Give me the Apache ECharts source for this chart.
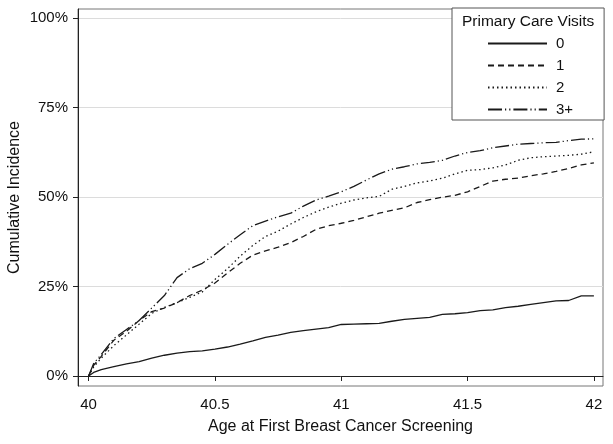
<!DOCTYPE html>
<html>
<head>
<meta charset="utf-8">
<script src="https://cdn.jsdelivr.net/npm/echarts@6/dist/echarts.min.js"></script>
<style>
html,body{margin:0;padding:0;background:#fff;}
#chart{width:613px;height:444px;}
</style>
</head>
<body>
<div id="chart"></div>
<script>
var ages = [40, 40.02, 40.05, 40.1, 40.15, 40.2, 40.25, 40.3, 40.35, 40.4, 40.45, 40.5, 40.55, 40.6, 40.65, 40.7, 40.75, 40.8, 40.85, 40.9, 40.95,
  41, 41.05, 41.1, 41.15, 41.2, 41.25, 41.3, 41.35, 41.4, 41.45, 41.5, 41.55, 41.6, 41.65, 41.7, 41.75, 41.8, 41.85, 41.9, 41.95, 42];
var visits0 = [0, 1.0, 1.8, 2.6, 3.4, 4.0, 5.0, 5.8, 6.4, 6.8, 7.0, 7.5, 8.1, 8.9, 9.8, 10.8, 11.4, 12.2, 12.7, 13.1, 13.5,
  14.4, 14.5, 14.6, 14.7, 15.3, 15.8, 16.1, 16.4, 17.2, 17.4, 17.7, 18.3, 18.5, 19.1, 19.5, 20.0, 20.5, 21.0, 21.1, 22.4, 22.4];
var visits1 = [0, 3.0, 5.5, 10.0, 12.5, 15.5, 18.0, 19.0, 20.5, 22.5, 24.0, 26.0, 28.8, 31.5, 33.8, 35.0, 36.0, 37.3, 39.0, 41.0, 42.0,
  42.7, 43.5, 44.5, 45.5, 46.3, 47.0, 48.5, 49.3, 50.0, 50.5, 51.5, 53.0, 54.5, 55.0, 55.3, 56.0, 56.5, 57.2, 58.0, 59.0, 59.6];
var visits2 = [0, 2.5, 5.0, 8.5, 11.5, 14.5, 17.5, 19.2, 20.5, 22.0, 23.5, 27.0, 30.0, 33.5, 36.5, 39.0, 40.5, 42.5, 44.3, 45.9, 47.2,
  48.3, 49.2, 49.8, 50.2, 52.2, 53.0, 54.0, 54.5, 55.3, 56.5, 57.5, 57.7, 58.2, 59.0, 60.3, 61.0, 61.3, 61.5, 61.7, 62.0, 62.7];
var visits3 = [0, 3.5, 6.0, 10.5, 13.0, 15.5, 19.0, 22.5, 27.5, 30.0, 31.5, 34.0, 36.8, 39.5, 42.0, 43.3, 44.5, 45.5, 47.5, 49.2, 50.3,
  51.5, 53.0, 54.8, 56.5, 57.8, 58.5, 59.3, 59.7, 60.3, 61.5, 62.5, 63.0, 63.8, 64.3, 64.8, 65.0, 65.2, 65.3, 65.8, 66.2, 66.3];
var seriesNames = ['0', '1', '2', '3+'];
var xTicks = [40, 40.5, 41, 41.5, 42];
var yTicks = [0, 25, 50, 75, 100];

var seriesValues = [visits0, visits1, visits2, visits3];
var dashes = ['solid', [6, 4], [1.5, 3], [14, 3, 1.2, 3, 1.2, 3]];

function pairs(ys) {
  return ages.map(function (a, i) { return [a, ys[i]]; });
}

var FONT = 'Liberation Sans, Arial, sans-serif';
var chart = echarts.init(document.getElementById('chart'), null, {renderer: 'canvas'});
chart.setOption({
  animation: false,
  backgroundColor: '#fff',
  title: {
    text: 'Primary Care Visits',
    left: 462,
    top: 14,
    padding: 0,
    textStyle: {fontFamily: FONT, fontSize: 15.5, fontWeight: 'normal', color: '#111'}
  },
  legend: {
    orient: 'vertical',
    left: 452,
    top: 8,
    padding: [28, 31, 3, 35],
    itemGap: 7,
    itemWidth: 59,
    itemHeight: 14,
    backgroundColor: '#fff',
    borderColor: '#555',
    borderWidth: 1,
    borderRadius: 0,
    data: seriesNames,
    itemStyle: {opacity: 0},
    textStyle: {fontFamily: FONT, fontSize: 15, color: '#111', padding: [0, 0, 0, 4]}
  },
  grid: {
    left: 78, right: 10, top: 9, bottom: 58,
    outerBoundsMode: 'none',
    containLabel: false,
    show: true, borderColor: '#777', borderWidth: 1, backgroundColor: '#fff'
  },
  xAxis: {
    type: 'value',
    min: 39.958,
    max: 42.036,
    name: 'Age at First Breast Cancer Screening',
    nameLocation: 'middle',
    nameGap: 33,
    nameMoveOverlap: false,
    nameTextStyle: {fontFamily: FONT, fontSize: 16, color: '#111'},
    axisLine: {show: true, lineStyle: {color: '#222', width: 1}},
    axisTick: {show: true, length: 5, customValues: xTicks, lineStyle: {color: '#222'}},
    axisLabel: {customValues: xTicks, margin: 11, fontFamily: FONT, fontSize: 15, color: '#111'},
    splitLine: {show: false}
  },
  yAxis: {
    type: 'value',
    min: -2.8,
    max: 102.6,
    name: 'Cumulative Incidence',
    nameLocation: 'middle',
    nameGap: 55,
    nameMoveOverlap: false,
    nameTextStyle: {fontFamily: FONT, fontSize: 16, color: '#111'},
    axisLine: {show: true, lineStyle: {color: '#222', width: 1}},
    axisTick: {show: true, length: 5, customValues: yTicks, lineStyle: {color: '#222'}},
    axisLabel: {customValues: yTicks, margin: 10, formatter: '{value}%', fontFamily: FONT, fontSize: 15, color: '#111'},
    splitLine: {show: true, lineStyle: {color: '#dcdcdc', width: 1}}
  },
  series: seriesValues.map(function (vals, i) {
    return {
      name: seriesNames[i],
      type: 'line',
      data: pairs(vals),
      symbol: 'none',
      showSymbol: false,
      smooth: false,
      lineStyle: {color: '#1a1a1a', width: 1.3, type: dashes[i]},
      itemStyle: {color: '#1a1a1a'},
      emphasis: {disabled: true}
    };
  })
});
</script>
</body>
</html>
